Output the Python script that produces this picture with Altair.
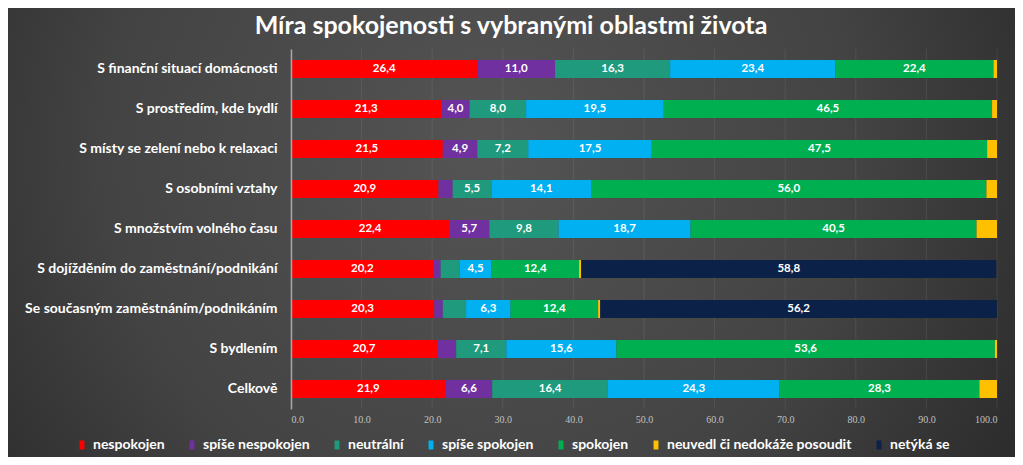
import altair as alt
import pandas as pd

categories = [
    "S finanční situací domácnosti",
    "S prostředím, kde bydlí",
    "S místy se zelení nebo k relaxaci",
    "S osobními vztahy",
    "S množstvím volného času",
    "S dojížděním do zaměstnání/podnikání",
    "Se současným zaměstnáním/podnikáním",
    "S bydlením",
    "Celkově",
]
series = [
    "nespokojen",
    "spíše nespokojen",
    "neutrální",
    "spíše spokojen",
    "spokojen",
    "neuvedl či nedokáže posoudit",
    "netýká se",
]
colors = ["#ff0000", "#7030a0", "#1f9a7c", "#00b0f0", "#00b050", "#ffc000", "#0c2148"]

nespokojen = [26.4, 21.3, 21.5, 20.9, 22.4, 20.2, 20.3, 20.7, 21.9]
spise_nespokojen = [11.0, 4.0, 4.9, 2.0, 5.7, 1.0, 1.2, 2.7, 6.6]
neutralni = [16.3, 8.0, 7.2, 5.5, 9.8, 2.7, 3.3, 7.1, 16.4]
spise_spokojen = [23.4, 19.5, 17.5, 14.1, 18.7, 4.5, 6.3, 15.6, 24.3]
spokojen = [22.4, 46.5, 47.5, 56.0, 40.5, 12.4, 12.4, 53.6, 28.3]
neuvedl = [0.5, 0.7, 1.4, 1.5, 2.9, 0.3, 0.3, 0.3, 2.5]
netyka = [0.0, 0.0, 0.0, 0.0, 0.0, 58.8, 56.2, 0.0, 0.0]

ticks = [0, 10, 20, 30, 40, 50, 60, 70, 80, 90, 100]

values = [nespokojen, spise_nespokojen, neutralni, spise_spokojen, spokojen, neuvedl, netyka]

rows = []
for i, c in enumerate(categories):
    acc = 0.0
    for s, vals in zip(series, values):
        v = vals[i]
        if v <= 0:
            continue
        rows.append(dict(
            cat=c, series=s, v=v, x0=acc, x1=acc + v, mid=acc + v / 2,
            label=(f"{v:.1f}".replace(".", ",") if v >= 4 else ""),
        ))
        acc += v
df = pd.DataFrame(rows)
ticks_df = pd.DataFrame({"t": ticks})

FONT = "Lato"
xscale = alt.Scale(domain=[0, 100], nice=False, zero=True)
xaxis = alt.Axis(values=ticks, format=".1f", grid=False, domain=False, ticks=False,
                 labelFont="Liberation Sans Narrow", labelFontSize=10,
                 labelColor="#c0c0c0", labelPadding=5, zindex=1)

bg = alt.Chart(pd.DataFrame({"a": [0]})).mark_rect(
    fill={
        "gradient": "radial",
        "x1": 0.47, "y1": 0.42, "r1": 0.0,
        "x2": 0.47, "y2": 0.42, "r2": 0.75,
        "stops": [
            {"offset": 0.0, "color": "#545454"},
            {"offset": 0.5, "color": "#434343"},
            {"offset": 1.0, "color": "#1e1e1e"},
        ],
    }
).encode(
    x=alt.value(-283), x2=alt.value(724), y=alt.value(-41), y2=alt.value(408)
)

grid = alt.Chart(ticks_df).mark_rule(color="#ffffff", opacity=0.08, strokeWidth=1).encode(
    x=alt.X("t:Q", scale=xscale, title=None, axis=xaxis)
)

ysort = categories

bars = alt.Chart(df).mark_bar(size=18).encode(
    y=alt.Y("cat:N", sort=ysort, title=None,
            axis=alt.Axis(labelFont=FONT, labelFontSize=14, labelFontWeight="bold",
                          labelColor="#ffffff", ticks=False, labelPadding=14,
                          domain=True, domainColor="#a6a6a6", domainWidth=1.5,
                          labelLimit=400, zindex=1)),
    x=alt.X("x0:Q", scale=xscale, title=None, axis=xaxis),
    x2="x1:Q",
    color=alt.Color("series:N", scale=alt.Scale(domain=series, range=colors),
                    legend=alt.Legend(
                        title=None, orient="none", legendX=-216, legendY=389,
                        direction="horizontal", columns=7, columnPadding=20,
                        labelFont=FONT, labelFontSize=14, labelFontWeight="bold",
                        labelColor="#ffffff", labelOffset=4, labelLimit=400,
                        symbolType="M-0.55,-1H0.55V1H-0.55Z", symbolSize=80,
                        symbolStrokeWidth=0, zindex=1)),
)

text = alt.Chart(df).transform_filter(alt.datum.label != "").mark_text(
    font=FONT, fontSize=11.5, fontWeight="bold", color="#ffffff", baseline="middle", align="center"
).encode(
    y=alt.Y("cat:N", sort=ysort),
    x=alt.X("mid:Q", scale=xscale),
    text="label:N",
)

chart = alt.layer(bg, grid, bars, text).properties(
    width=706,
    height=360,
    autosize=alt.AutoSizeParams(type="none"),
    padding={"left": 283, "top": 41, "right": 18, "bottom": 48},
    title=alt.TitleParams(
        "Míra spokojenosti s vybranými oblastmi života",
        font=FONT, fontSize=25, fontWeight="bold", color="#ffffff",
        anchor="middle", frame="group", dx=-133, dy=45, offset=14, zindex=1,
    ),
).configure(background="#2b2b2b").configure_view(stroke=None)

chart.save("out.html", embed_options={"renderer": "svg", "actions": False})
